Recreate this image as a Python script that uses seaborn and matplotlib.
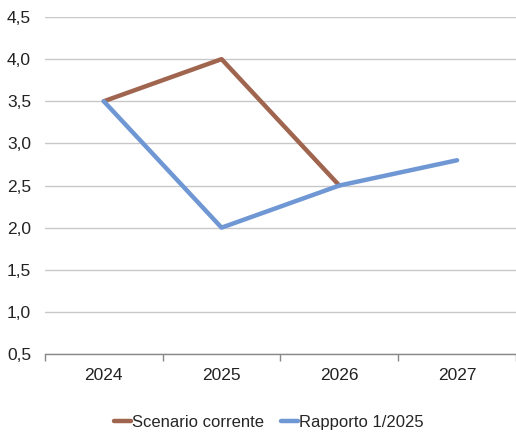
import matplotlib
matplotlib.use("Agg")
import matplotlib.pyplot as plt
import matplotlib.ticker as mticker
import seaborn as sns
import pandas as pd
from matplotlib import font_manager

years = ["2024", "2025", "2026", "2027"]
scenario_corrente = [3.5, 4.0, 2.5, None]
rapporto_1_2025 = [3.5, 2.0, 2.5, 2.8]
series_names = ["Scenario corrente", "Rapporto 1/2025"]
colors = ["#A0654F", "#6F97D4"]

sns.set_theme(style="white")
available = {f.name for f in font_manager.fontManager.ttflist}
family = "Liberation Sans Narrow" if "Liberation Sans Narrow" in available else "Liberation Sans"
plt.rcParams["font.family"] = [family, "DejaVu Sans"]

rows = []
for name, vals in zip(series_names, [scenario_corrente, rapporto_1_2025]):
    for i, v in enumerate(vals):
        if v is not None:
            rows.append({"pos": i, "value": v, "serie": name})
df = pd.DataFrame(rows)

fig = plt.figure(figsize=(5.16, 4.36), dpi=100)
ax = fig.add_axes([0.087, 0.188, 0.913, 0.773])

sns.lineplot(data=df, x="pos", y="value", hue="serie", hue_order=series_names,
             palette=colors, linewidth=3.2, ax=ax, legend=True, sort=False)

ax.set_xlim(-0.5, len(years) - 0.5)
ax.set_ylim(0.5, 4.5)
ax.yaxis.set_major_locator(mticker.MultipleLocator(0.5))
ax.yaxis.set_major_formatter(mticker.FuncFormatter(lambda v, p: f"{v:.1f}".replace(".", ",")))
ax.grid(axis="y", color="#C8C8C8", linewidth=1.0)
ax.set_axisbelow(True)

ax.set_xticks(range(len(years)))
ax.set_xticklabels(years)
ax.set_xticks([i - 0.5 for i in range(len(years) + 1)], minor=True)
ax.tick_params(axis="x", which="major", length=0, pad=10, labelsize=12.5, colors="#222222")
ax.tick_params(axis="x", which="minor", length=5, width=1, color="#888888", direction="out", bottom=True)
ax.tick_params(axis="y", length=0, pad=10, labelsize=12.5, colors="#222222")

for s in ["left", "right", "top"]:
    ax.spines[s].set_visible(False)
ax.spines["bottom"].set_color("#888888")
ax.spines["bottom"].set_linewidth(1)

ax.set_xlabel("")
ax.set_ylabel("")

handles, labels = ax.get_legend_handles_labels()
ax.legend(handles, labels, loc="lower center", bbox_to_anchor=(0.476, -0.27),
          ncol=2, frameon=False, fontsize=12, handlelength=1.0,
          handletextpad=0.1, columnspacing=1.0)

fig.savefig("out.png", dpi=100)
